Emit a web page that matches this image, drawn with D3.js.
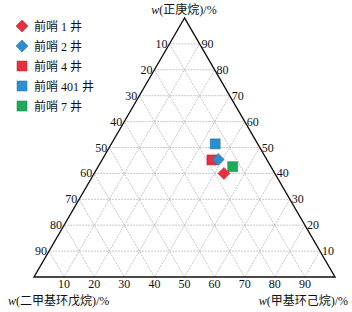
<!DOCTYPE html>
<html>
<head>
<meta charset="utf-8">
<script src="https://cdn.jsdelivr.net/npm/d3@7"></script>
<style>
  body { margin: 0; background: #fff; }
  text { font-family: "Liberation Serif", "Noto Sans CJK SC", serif; fill: #111; }
</style>
</head>
<body>
<div id="chart"></div>
<script>
// wells and compositions (%): T = 正庚烷 (top), R = 甲基环己烷 (bottom right), L = 二甲基环戊烷
const wells = ["前哨 1 井", "前哨 2 井", "前哨 4 井", "前哨 401 井", "前哨 7 井"];
const heptane = [40.0, 45.4, 45.2, 51.4, 42.6];
const mch = [43.1, 38.5, 36.5, 34.5, 44.7];
const shapes = ["diamond", "diamond", "square", "square", "square"];
const colors = ["#e8303f", "#2a8fd0", "#e8303f", "#2a8fd0", "#1faa5a"];
const ticks = [10, 20, 30, 40, 50, 60, 70, 80, 90];

const width = 352, height = 312;
const svg = d3.select("#chart").append("svg")
    .attr("width", width)
    .attr("height", height);

// ternary projection built from two linear scales
const yT = d3.scaleLinear().domain([0, 100]).range([277, 18]);
const xP = d3.scaleLinear().domain([0, 100]).range([34, 335]);
const proj = (t, r) => [xP(r + t / 2), yT(t)];

// grid
const grid = svg.append("g")
    .attr("stroke", "#b8b8b8")
    .attr("stroke-width", 0.8)
    .attr("stroke-dasharray", "2,1")
    .attr("fill", "none");
ticks.forEach(v => {
    // constant top component (horizontal)
    let a = proj(v, 0), b = proj(v, 100 - v);
    grid.append("line").attr("x1", a[0]).attr("y1", a[1]).attr("x2", b[0]).attr("y2", b[1]);
    // constant right component
    a = proj(0, v); b = proj(100 - v, v);
    grid.append("line").attr("x1", a[0]).attr("y1", a[1]).attr("x2", b[0]).attr("y2", b[1]);
    // constant left component
    a = proj(0, 100 - v); b = proj(100 - v, 0);
    grid.append("line").attr("x1", a[0]).attr("y1", a[1]).attr("x2", b[0]).attr("y2", b[1]);
});

// triangle border
const corners = [proj(100, 0), proj(0, 0), proj(0, 100)];
svg.append("path")
    .attr("d", d3.line()(corners) + "Z")
    .attr("fill", "none")
    .attr("stroke", "#111")
    .attr("stroke-width", 1.4);

// tick labels
const lab = svg.append("g").style("font-size", "12px");
ticks.forEach(v => {
    // left edge: 二甲基环戊烷 at horizontal line T = 100 - v
    let p = proj(100 - v, 0);
    lab.append("text").attr("x", p[0] - 2).attr("y", p[1] + 4)
        .attr("text-anchor", "end").text(v);
    // right edge: 正庚烷
    p = proj(v, 100 - v);
    lab.append("text").attr("x", p[0] + 2).attr("y", p[1] + 4)
        .attr("text-anchor", "start").text(v);
    // bottom edge: 甲基环己烷
    p = proj(0, v);
    lab.append("text").attr("x", p[0]).attr("y", p[1] + 11)
        .attr("text-anchor", "middle").text(v);
});

// axis titles
function axisTitle(x, y, name, anchor) {
    const t = svg.append("text").attr("x", x).attr("y", y)
        .attr("text-anchor", anchor).style("font-size", "12px");
    t.append("tspan").style("font-style", "italic").text("w");
    t.append("tspan").text("(" + name + ")/%");
}
axisTitle(184, 14, "正庚烷", "middle");
axisTitle(8, 305, "二甲基环戊烷", "start");
axisTitle(348, 305, "甲基环己烷", "end");

// markers
const symbolFor = s => s === "diamond"
    ? d3.symbol().type(d3.symbolSquare).size(72)()
    : d3.symbol().type(d3.symbolSquare).size(100)();
const rot = s => s === "diamond" ? " rotate(45)" : "";

const order = [2, 3, 4, 0, 1];
order.forEach(i => {
    const p = proj(heptane[i], mch[i]);
    svg.append("path")
        .attr("d", symbolFor(shapes[i]))
        .attr("transform", "translate(" + p[0] + "," + p[1] + ")" + rot(shapes[i]))
        .attr("fill", colors[i])
        .attr("stroke", d3.color(colors[i]).darker(0.8))
        .attr("stroke-width", 0.5);
});

// legend
const legend = svg.append("g");
wells.forEach((w, i) => {
    const y = 26 + i * 20;
    legend.append("path")
        .attr("d", symbolFor(shapes[i]))
        .attr("transform", "translate(22," + y + ")" + rot(shapes[i]))
        .attr("fill", colors[i])
        .attr("stroke", d3.color(colors[i]).darker(0.8))
        .attr("stroke-width", 0.5);
    legend.append("text")
        .attr("x", 34).attr("y", y + 4.5)
        .style("font-size", "12px")
        .text(w);
});
</script>
</body>
</html>
